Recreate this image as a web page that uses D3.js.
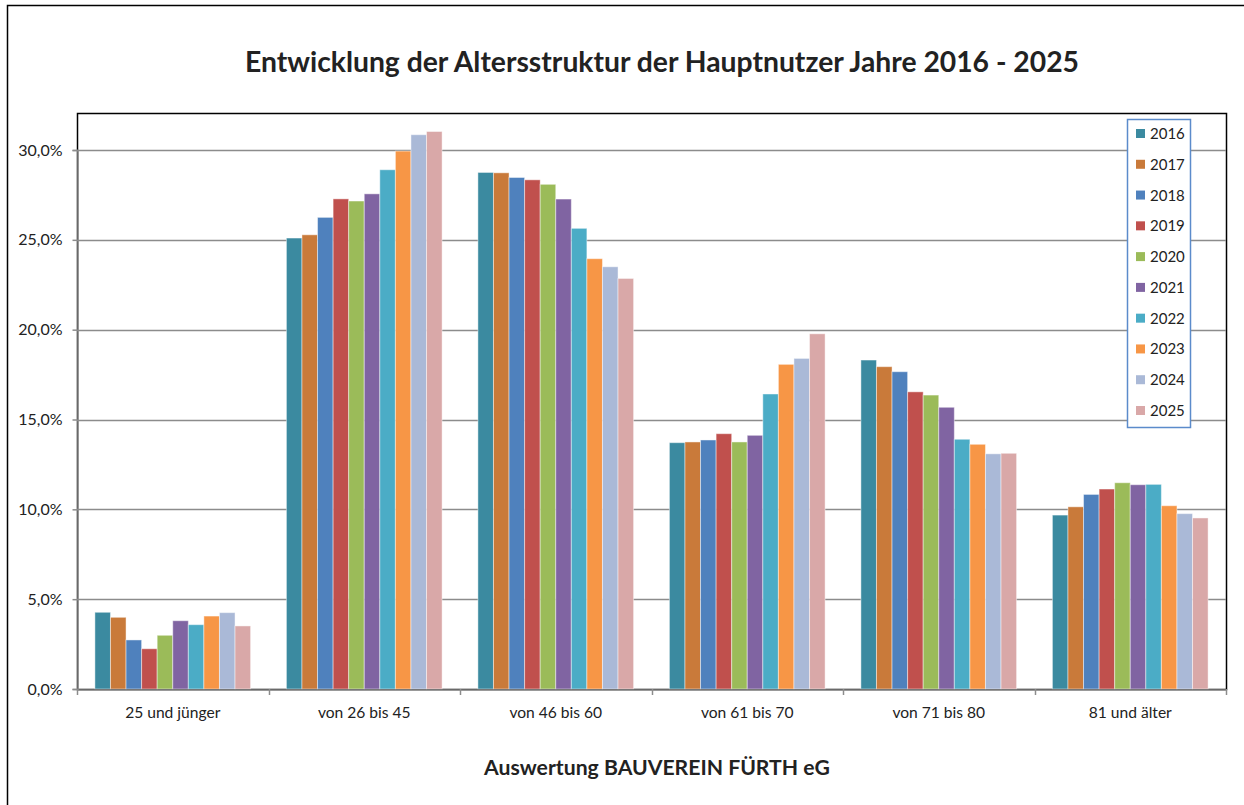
<!DOCTYPE html>
<html><head><meta charset="utf-8">
<script src="https://cdn.jsdelivr.net/npm/d3@7"></script>
<style>body{margin:0;background:#fff}svg{display:block}text{font-family:Lato,"Open Sans",sans-serif;fill:#222}</style>
</head><body>
<script>
const categories = ["25 und jünger","von 26 bis 45","von 46 bis 60","von 61 bis 70","von 71 bis 80","81 und älter"];
const years = ["2016","2017","2018","2019","2020","2021","2022","2023","2024","2025"];
const colors = ["#3B8AA0","#C97A3A","#4F81BD","#C0504D","#9BBB59","#8064A2","#4BACC6","#F79646","#AAB9D7","#D9A8A8"];
const v2016 = [4.27,25.10,28.75,13.71,18.31,9.68];
const v2017 = [3.99,25.28,28.73,13.75,17.94,10.14];
const v2018 = [2.73,26.25,28.47,13.86,17.66,10.83];
const v2019 = [2.24,27.28,28.34,14.21,16.54,11.13];
const v2020 = [2.99,27.16,28.09,13.75,16.36,11.48];
const v2021 = [3.80,27.56,27.27,14.12,15.68,11.37];
const v2022 = [3.58,28.90,25.64,16.42,13.90,11.39];
const v2023 = [4.06,29.94,23.95,18.07,13.62,10.20];
const v2024 = [4.25,30.85,23.50,18.40,13.09,9.76];
const v2025 = [3.51,31.03,22.85,19.77,13.12,9.52];
const series = [v2016,v2017,v2018,v2019,v2020,v2021,v2022,v2023,v2024,v2025];
const yTicks = [0,5,10,15,20,25,30];

const W=1244,H=805;
const svg=d3.select("body").append("svg").attr("width",W).attr("height",H);
// outer frame
svg.append("rect").attr("x",7.5).attr("y",5.5).attr("width",1260).attr("height",900)
  .attr("fill","none").attr("stroke","#000").attr("stroke-width",1.5);

const L=77,R=1226,T=113,B=689;
const x=d3.scaleBand().domain(categories).range([L,R]).paddingInner(0).paddingOuter(0);
const x1=d3.scaleBand().domain(years).range([0,x.bandwidth()]).paddingOuter(1.15).paddingInner(0);
const y=d3.scaleLinear().domain([0,30]).range([B,150]);
// plot area border
svg.append("rect").attr("x",L+0.5).attr("y",T+0.5).attr("width",R-L).attr("height",B-T)
  .attr("fill","none").attr("stroke","#000").attr("stroke-width",1.5);
// gridlines
svg.append("g").selectAll("line").data(yTicks.filter(d=>d>0)).join("line")
  .attr("x1",L).attr("x2",R).attr("y1",d=>Math.round(y(d))+0.5).attr("y2",d=>Math.round(y(d))+0.5)
  .attr("stroke","#8c8c8c").attr("stroke-width",1.5);
// bars
const g=svg.append("g");
series.forEach((vals,i)=>{
  g.append("g").selectAll("rect").data(vals).join("rect")
   .attr("x",(d,j)=>x(categories[j])+x1(years[i]))
   .attr("width",x1.bandwidth())
   .attr("y",d=>y(d)).attr("height",d=>B-y(d))
   .attr("fill",colors[i]).attr("stroke","rgba(255,255,255,0.45)").attr("stroke-width",1);
});
// y axis
const ya=svg.append("g").attr("transform",`translate(${L+0.5},0)`)
  .call(d3.axisLeft(y).tickValues(yTicks).tickSize(5).tickPadding(10)
   .tickFormat(d=>d3.format(".1f")(d).replace(".",",")+"%"));
ya.select(".domain").attr("stroke","#8c8c8c").attr("stroke-width",1.5);
ya.selectAll(".tick line").attr("stroke","#8c8c8c").attr("stroke-width",1.5);
ya.selectAll(".tick text").attr("font-size",16).attr("fill","#222").style("font-family","Lato");
// x axis
const xa=svg.append("g").attr("transform",`translate(0,${B+0.5})`)
  .call(d3.axisBottom(x).tickSize(0).tickPadding(17));
xa.select(".domain").attr("stroke","#8c8c8c").attr("stroke-width",1.5);
xa.selectAll(".tick text").attr("font-size",15.6).attr("fill","#222").style("font-family","Lato");
svg.append("g").selectAll("line").data(d3.range(categories.length+1)).join("line")
  .attr("x1",i=>Math.round(L+i*x.bandwidth())+0.5).attr("x2",i=>Math.round(L+i*x.bandwidth())+0.5)
  .attr("y1",B).attr("y2",B+6).attr("stroke","#8c8c8c").attr("stroke-width",1.5);
// title
svg.append("text").attr("x",662).attr("y",72).attr("text-anchor","middle")
  .attr("font-size",28.3).attr("font-weight","bold").attr("fill","#000")
  .text("Entwicklung der Altersstruktur der Hauptnutzer Jahre 2016 - 2025");
svg.append("text").attr("x",657).attr("y",775).attr("text-anchor","middle")
  .attr("font-size",21.2).attr("font-weight","bold").attr("fill","#000")
  .text("Auswertung BAUVEREIN FÜRTH eG");
// legend
const lg=svg.append("g");
lg.append("rect").attr("x",1127.5).attr("y",119.5).attr("width",63).attr("height",308)
  .attr("fill","#fff").attr("stroke","#5B8BCB").attr("stroke-width",1.5);
const ly=d3.scalePoint().domain(years).range([134,411]);
years.forEach((yr,i)=>{
  lg.append("rect").attr("x",1136).attr("y",ly(yr)-5).attr("width",9).attr("height",9).attr("fill",colors[i]);
  lg.append("text").attr("x",1150).attr("y",ly(yr)+5).attr("font-size",15).text(yr);
});
</script>
</body></html>
